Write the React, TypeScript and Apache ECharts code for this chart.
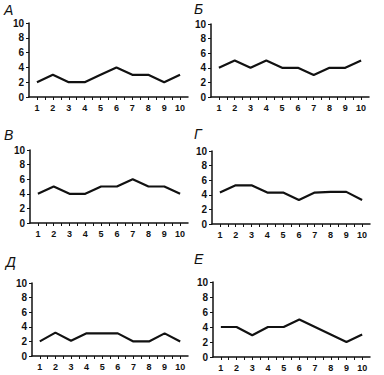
import React, { useEffect, useRef } from "react";
import * as echarts from "echarts";

const categories = [1, 2, 3, 4, 5, 6, 7, 8, 9, 10];
const panelTitles = ["А", "Б", "В", "Г", "Д", "Е"];
const seriesA = [2, 3, 2, 2, 3, 4, 3, 3, 2, 3];
const seriesB = [4, 5, 4, 5, 4, 4, 3, 4, 4, 5];
const seriesV = [4, 5, 4, 4, 5, 5, 6, 5, 5, 4];
const seriesG = [4.3, 5.3, 5.3, 4.3, 4.3, 3.3, 4.3, 4.4, 4.4, 3.3];
const seriesD = [2, 3.2, 2.1, 3.1, 3.1, 3.1, 2, 2, 3.1, 2];
const seriesE = [4, 4, 2.9, 4, 4, 5, 4, 3, 2, 3];
const yTicks = [0, 2, 4, 6, 8, 10];

const allSeries = [seriesA, seriesB, seriesV, seriesG, seriesD, seriesE];

// layout: grid left/top/width/height and title position
const layout = [
  { left: 29, top: 23, width: 159, height: 74, tx: 4, ty: 3 },
  { left: 211, top: 24, width: 158, height: 73, tx: 194, ty: 2 },
  { left: 30, top: 150, width: 158, height: 73, tx: 4, ty: 128 },
  { left: 212, top: 151, width: 158, height: 73, tx: 194, ty: 127 },
  { left: 32, top: 283, width: 156, height: 73, tx: 6, ty: 255 },
  { left: 213, top: 282, width: 157, height: 75, tx: 194, ty: 252 },
];

const FONT = "Liberation Sans";

export default function App() {
  const ref = useRef<HTMLDivElement>(null);
  useEffect(() => {
    if (!ref.current) return;
    const chart = echarts.init(ref.current, null, { renderer: "svg" });
    const grids = layout.map((l) => ({
      left: l.left,
      top: l.top,
      width: l.width,
      height: l.height,
      containLabel: false,
    }));
    const xAxes = layout.map((_, i) => ({
      type: "value",
      gridIndex: i,
      min: 0.5,
      max: 10.5,
      interval: 0.5,
      splitLine: { show: false },
      axisLine: { show: true, lineStyle: { color: "#111", width: 1.5 } },
      axisTick: { show: true, length: 3, lineStyle: { color: "#111", width: 1 } },
      axisLabel: {
        margin: 6,
        fontSize: 9,
        fontWeight: "bold",
        fontFamily: FONT,
        color: "#111",
        showMinLabel: false,
        showMaxLabel: false,
        formatter: (v: number) =>
          categories.includes(v) ? String(v) : "",
      },
    }));
    const yAxes = layout.map((_, i) => ({
      type: "value",
      gridIndex: i,
      min: yTicks[0],
      max: yTicks[yTicks.length - 1],
      interval: 2,
      splitLine: { show: false },
      axisLine: { show: true, lineStyle: { color: "#111", width: 1.5 } },
      axisTick: { show: true, length: 3, lineStyle: { color: "#111", width: 1 } },
      axisLabel: {
        margin: 5,
        fontSize: 10,
        fontWeight: "bold",
        fontFamily: FONT,
        color: "#111",
      },
    }));
    const series = allSeries.map((s, i) => ({
      type: "line",
      xAxisIndex: i,
      yAxisIndex: i,
      data: s.map((v, j) => [categories[j], v]),
      symbol: "none",
      lineStyle: { color: "#111", width: 2.2 },
    }));
    const graphic = layout.map((l, i) => ({
      type: "text",
      x: l.tx,
      y: l.ty,
      style: {
        text: panelTitles[i],
        fontSize: 14,
        fontStyle: "italic",
        fontFamily: FONT,
        fill: "#111",
      },
    }));
    chart.setOption({
      animation: false,
      backgroundColor: "#fff",
      grid: grids,
      xAxis: xAxes,
      yAxis: yAxes,
      series,
      graphic,
    });
    return () => chart.dispose();
  }, []);
  return (
    <div
      ref={ref}
      style={{ position: "fixed", left: 0, top: 0, width: 384, height: 375, background: "#fff" }}
    />
  );
}
